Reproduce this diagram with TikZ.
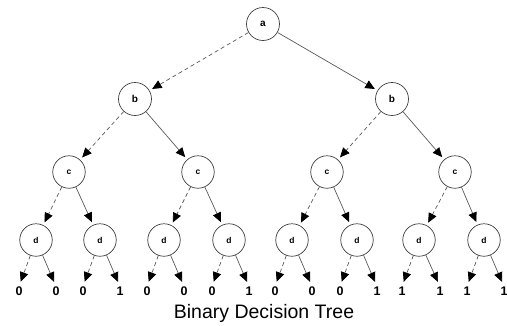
\documentclass[tikz,border=0pt]{standalone}
\usepackage{fontspec}
\setmainfont{Liberation Sans}
\usetikzlibrary{arrows.meta}
\begin{document}
\begin{tikzpicture}[x=1pt,y=-1pt,
  vnode/.style={circle,draw=black!75,line width=0.7pt,minimum size=33pt,inner sep=0pt},
  bigvar/.style={vnode,font=\fontsize{10}{11}\selectfont\bfseries},
  smallvar/.style={vnode,minimum size=32.5pt,font=\fontsize{8.5}{9}\selectfont\bfseries},
  leaf/.style={inner sep=0pt,font=\fontsize{12.5}{13}\selectfont\bfseries},
  link/.style={draw=black!65,line width=0.7pt,shorten >=3pt,
    -{Triangle[length=9.5pt,width=8.5pt,color=black]}},
  lo/.style={link,dash pattern=on 4pt off 3pt},
  hi/.style={link},
  leaflo/.style={lo,shorten >=5pt},
  leafhi/.style={hi,shorten >=5pt}]
\useasboundingbox (0,0) rectangle (507,325);

% variable nodes
\node[bigvar] (a) at (263,24) {a};
\node[bigvar] (b1) at (135,99) {b};
\node[bigvar] (b2) at (392,99) {b};
\node[smallvar] (c1) at (69,172) {c};
\node[smallvar] (c2) at (198,172) {c};
\node[smallvar] (c3) at (327,172) {c};
\node[smallvar] (c4) at (455,172) {c};
\node[smallvar] (d1) at (36,240) {d};
\node[smallvar] (d2) at (100,240) {d};
\node[smallvar] (d3) at (164,240) {d};
\node[smallvar] (d4) at (229,240) {d};
\node[smallvar] (d5) at (292,240) {d};
\node[smallvar] (d6) at (357,240) {d};
\node[smallvar] (d7) at (419,240) {d};
\node[smallvar] (d8) at (484,240) {d};

% terminal values
\node[leaf] (t1) at (19,291) {0};
\node[leaf] (t2) at (56,291) {0};
\node[leaf] (t3) at (83,291) {0};
\node[leaf] (t4) at (120,291) {1};
\node[leaf] (t5) at (147,291) {0};
\node[leaf] (t6) at (184,291) {0};
\node[leaf] (t7) at (212,291) {0};
\node[leaf] (t8) at (249,291) {1};
\node[leaf] (t9) at (275,291) {0};
\node[leaf] (t10) at (312,291) {0};
\node[leaf] (t11) at (340,291) {0};
\node[leaf] (t12) at (377,291) {1};
\node[leaf] (t13) at (402,291) {1};
\node[leaf] (t14) at (440,291) {1};
\node[leaf] (t15) at (467,291) {1};
\node[leaf] (t16) at (504,291) {1};

% low (dashed) and high (solid) branches
\draw[lo] (a) -- (b1);
\draw[hi] (a) -- (b2);
\draw[lo] (b1) -- (c1);
\draw[hi] (b1) -- (c2);
\draw[lo] (b2) -- (c3);
\draw[hi] (b2) -- (c4);
\draw[lo] (c1) -- (d1);
\draw[hi] (c1) -- (d2);
\draw[lo] (c2) -- (d3);
\draw[hi] (c2) -- (d4);
\draw[lo] (c3) -- (d5);
\draw[hi] (c3) -- (d6);
\draw[lo] (c4) -- (d7);
\draw[hi] (c4) -- (d8);
\draw[leaflo] (d1) -- (t1.north);
\draw[leafhi] (d1) -- (t2.north);
\draw[leaflo] (d2) -- (t3.north);
\draw[leafhi] (d2) -- (t4.north);
\draw[leaflo] (d3) -- (t5.north);
\draw[leafhi] (d3) -- (t6.north);
\draw[leaflo] (d4) -- (t7.north);
\draw[leafhi] (d4) -- (t8.north);
\draw[leaflo] (d5) -- (t9.north);
\draw[leafhi] (d5) -- (t10.north);
\draw[leaflo] (d6) -- (t11.north);
\draw[leafhi] (d6) -- (t12.north);
\draw[leaflo] (d7) -- (t13.north);
\draw[leafhi] (d7) -- (t14.north);
\draw[leaflo] (d8) -- (t15.north);
\draw[leafhi] (d8) -- (t16.north);

% caption
\node[font=\fontsize{19.5}{22}\selectfont] (title) at (264,313.5) {Binary Decision Tree};
\end{tikzpicture}
\end{document}
